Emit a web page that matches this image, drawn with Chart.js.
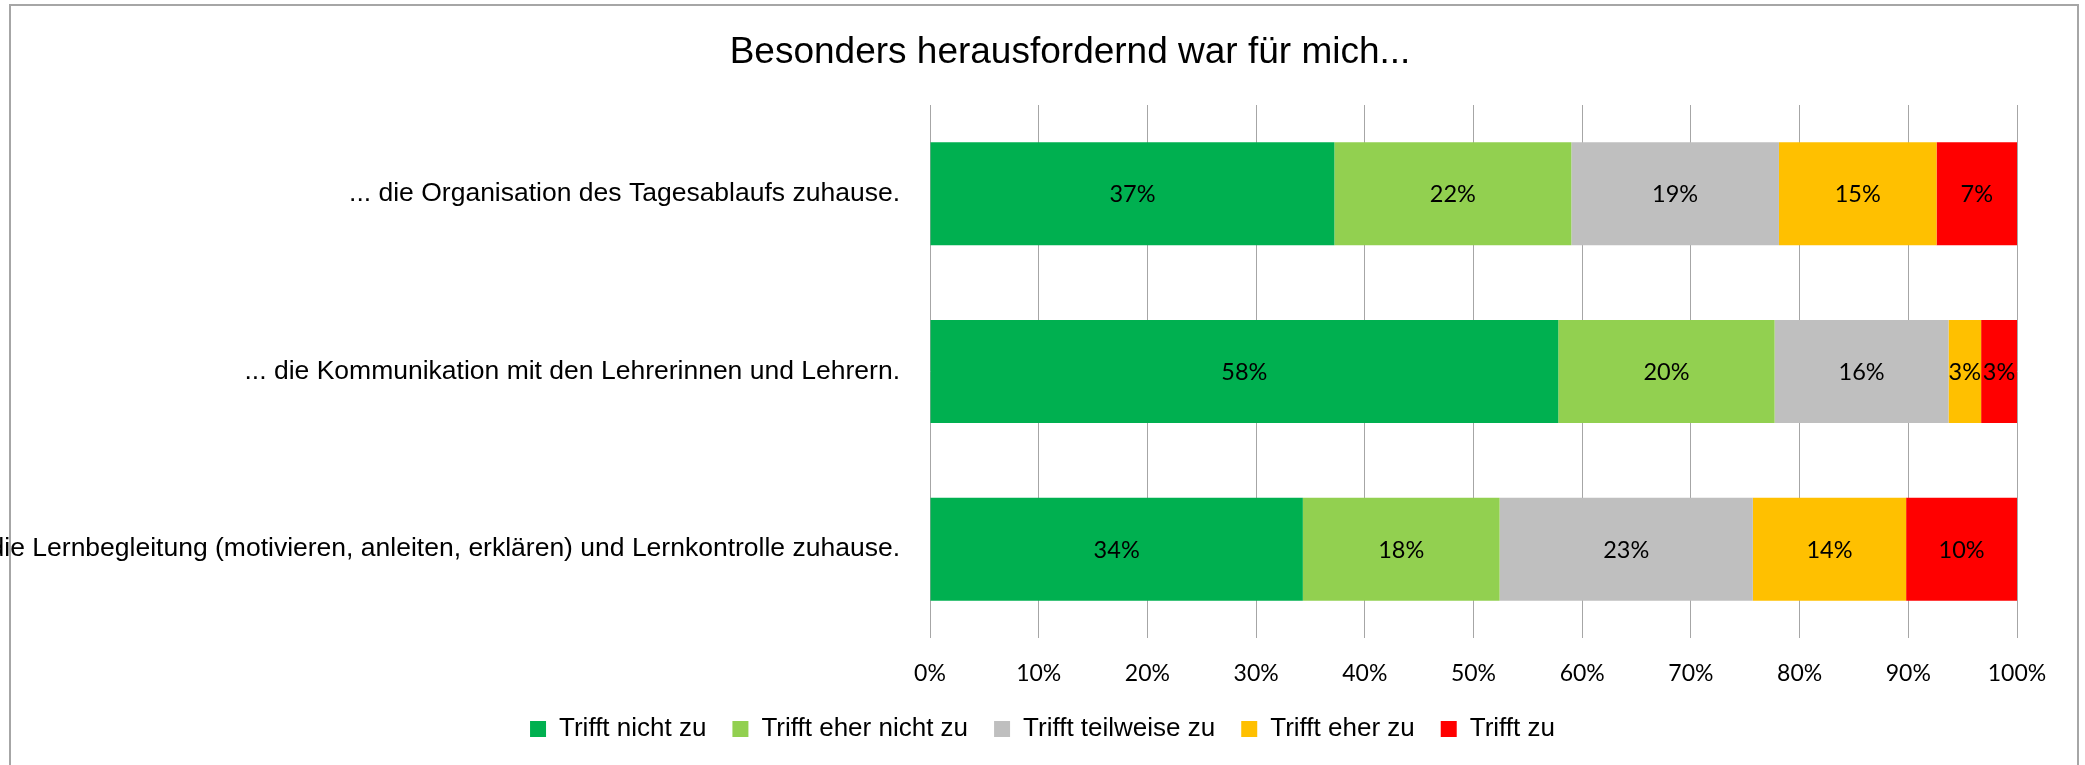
<!DOCTYPE html>
<html>
<head>
<meta charset="utf-8">
<script src="https://cdn.jsdelivr.net/npm/chart.js@4"></script>
<style>
  body { margin: 0; overflow: hidden; background: #fff; }
  #rahmen { position: absolute; left: 9px; top: 4px; width: 2066px; height: 820px; border: 2px solid #a6a6a6; }
  #diagramm { position: absolute; left: 0; top: 0; }
</style>
</head>
<body>
<div id="rahmen"></div>
<canvas id="diagramm" width="2085" height="765"></canvas>
<script>
// Kategorien (Aussagen)
const aussagen = [
    '... die Organisation des Tagesablaufs zuhause.',
    '... die Kommunikation mit den Lehrerinnen und Lehrern.',
    '... die Lernbegleitung (motivieren, anleiten, erklären) und Lernkontrolle zuhause.'
];

// Antworten in Prozent, je Aussage
const trifftNichtZu = [37.2, 57.8, 34.3];
const trifftEherNichtZu = [21.8, 19.9, 18.1];
const trifftTeilweiseZu = [19.1, 16.0, 23.3];
const trifftEherZu = [14.5, 3.0, 14.1];
const trifftZu = [7.4, 3.3, 10.2];

const achsenTicks = [0, 10, 20, 30, 40, 50, 60, 70, 80, 90, 100];

// Prozentwerte mittig in die Balken schreiben
const balkenBeschriftung = {
    id: 'balkenBeschriftung',
    afterLayout(chart) {
        // Titel steht im Original etwas rechts der Mitte
        if (chart.titleBlock) chart.titleBlock.left = 55;
    },
    afterDatasetsDraw(chart) {
        const ctx = chart.ctx;
        ctx.save();
        ctx.font = '23.5px Lato';
        ctx.fillStyle = '#000';
        ctx.textAlign = 'center';
        ctx.textBaseline = 'middle';
        chart.data.datasets.forEach((ds, i) => {
            chart.getDatasetMeta(i).data.forEach((bar, j) => {
                const x = (bar.x + bar.base) / 2;
                ctx.fillText(Math.round(ds.data[j]) + '%', x, bar.y + 1);
            });
        });
        ctx.restore();
    }
};

const ctx = document.getElementById('diagramm').getContext('2d');
new Chart(ctx, {
    type: 'bar',
    data: {
        labels: aussagen,
        datasets: [
            { label: 'Trifft nicht zu', data: trifftNichtZu, backgroundColor: '#00b050' },
            { label: 'Trifft eher nicht zu', data: trifftEherNichtZu, backgroundColor: '#92d050' },
            { label: 'Trifft teilweise zu', data: trifftTeilweiseZu, backgroundColor: '#bfbfbf' },
            { label: 'Trifft eher zu', data: trifftEherZu, backgroundColor: '#ffc000' },
            { label: 'Trifft zu', data: trifftZu, backgroundColor: '#ff0000' }
        ]
    },
    options: {
        indexAxis: 'y',
        responsive: false,
        animation: false,
        devicePixelRatio: 1,
        categoryPercentage: 1,
        barPercentage: 0.58,
        borderWidth: 0,
        layout: { padding: { top: 0, bottom: 13, left: 0, right: 0 } },
        scales: {
            x: {
                stacked: true,
                min: 0,
                max: 100,
                afterBuildTicks: (scale) => { scale.ticks = achsenTicks.map(v => ({ value: v })); },
                afterFit: (scale) => { scale.height = 52; },
                grid: { color: '#a6a6a6', lineWidth: 1, drawTicks: false },
                border: { display: false },
                ticks: {
                    padding: 22,
                    color: '#000',
                    font: { family: 'Lato', size: 23 },
                    callback: (v) => v + '%'
                }
            },
            y: {
                stacked: true,
                afterFit: (scale) => { scale.width = 930; },
                grid: { display: false, drawTicks: false },
                border: { display: false },
                ticks: {
                    padding: 30,
                    color: '#000',
                    font: { family: 'Liberation Sans', size: 26.5 }
                }
            },
            // leerer Rand rechts neben der Zeichenfläche
            rechts: {
                axis: 'y',
                position: 'right',
                afterFit: (scale) => { scale.width = 68; },
                grid: { display: false, drawTicks: false },
                border: { display: false },
                ticks: { display: false }
            }
        },
        plugins: {
            title: {
                display: true,
                text: 'Besonders herausfordernd war für mich...',
                color: '#000',
                font: { family: 'Liberation Sans', size: 37, weight: 'normal' },
                padding: { top: 31, bottom: 29.6 }
            },
            legend: {
                position: 'bottom',
                labels: {
                    color: '#000',
                    font: { family: 'Liberation Sans', size: 26 },
                    boxWidth: 16,
                    boxHeight: 16,
                    padding: 26
                }
            },
            tooltip: { enabled: false }
        }
    },
    plugins: [balkenBeschriftung]
});
</script>
</body>
</html>
